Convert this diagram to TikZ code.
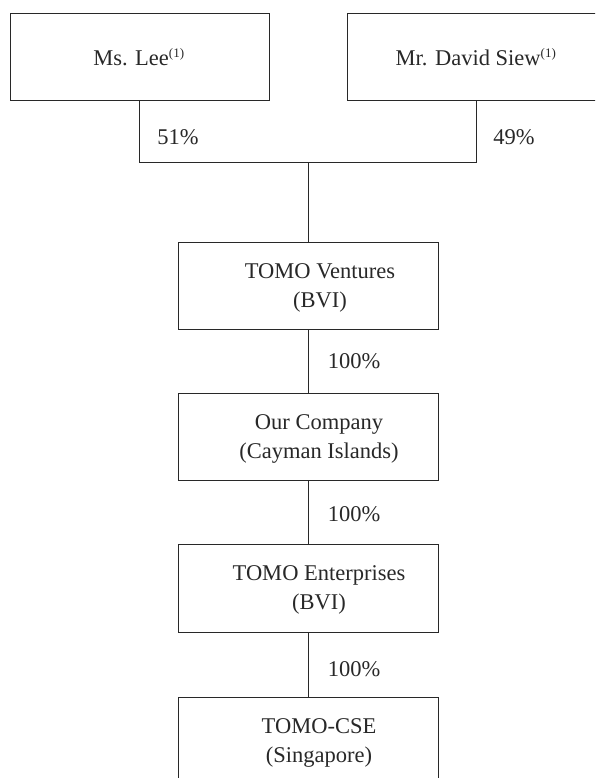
\documentclass[tikz,border=0pt]{standalone}
\usepackage{fontspec}
\setmainfont{Liberation Serif}
\definecolor{ink}{RGB}{40,40,40}
\tikzset{
  box/.style={draw=ink, line width=1pt, minimum width=259pt, minimum height=87pt, inner sep=0pt},
  txt/.style={text=ink, align=center, inner sep=0pt, font=\fontsize{22.5}{29}\selectfont},
  pct/.style={text=ink, inner sep=0pt, font=\fontsize{22.5}{24}\selectfont},
  conn/.style={draw=ink, line width=1pt}
}
\newcommand{\fnmark}{\textsuperscript{\fontsize{13}{13}\selectfont(1)}}
\begin{document}
\begin{tikzpicture}[x=1pt,y=-1pt]
\useasboundingbox (0,0) rectangle (595,778);
\clip (0,0) rectangle (595,778);
% boxes
\node[box] (lee) at (139.5,57.5) {};
\node[box] (siew) at (476.5,57.5) {};
\node[box, minimum width=260pt] (ven) at (308,285.5) {};
\node[box, minimum width=260pt] (co) at (308,436.5) {};
\node[box, minimum width=260pt, minimum height=88pt] (ent) at (308,588) {};
\node[box, minimum width=260pt, minimum height=90pt] (cse) at (308,742) {};
% texts
\node[txt] (leet) at (139,57) {Ms. Lee\fnmark};
\node[txt] (siewt) at (476,57) {Mr. David Siew\fnmark};
\node[txt] (vent) at (320,288) {TOMO Ventures\\(BVI)};
\node[txt] (cot) at (319,439) {Our Company\\(Cayman Islands)};
\node[txt] (entt) at (319,590) {TOMO Enterprises\\(BVI)};
\node[txt] (cset) at (319,743) {TOMO-CSE\\(Singapore)};
% connectors
\coordinate (j) at (308,162.5);
\draw[conn] (lee.south) |- (j) -| (siew.south);
\draw[conn] (j) -- (ven.north);
\draw[conn] (ven.south) -- (co.north);
\draw[conn] (co.south) -- (ent.north);
\draw[conn] (ent.south) -- (cse.north);
% percentages
\node[pct] (p1) at (178,137) {51\%};
\node[pct] (p2) at (514,137) {49\%};
\node[pct] (p3) at (354,361) {100\%};
\node[pct] (p4) at (354,514) {100\%};
\node[pct] (p5) at (354,669) {100\%};
\end{tikzpicture}
\end{document}
